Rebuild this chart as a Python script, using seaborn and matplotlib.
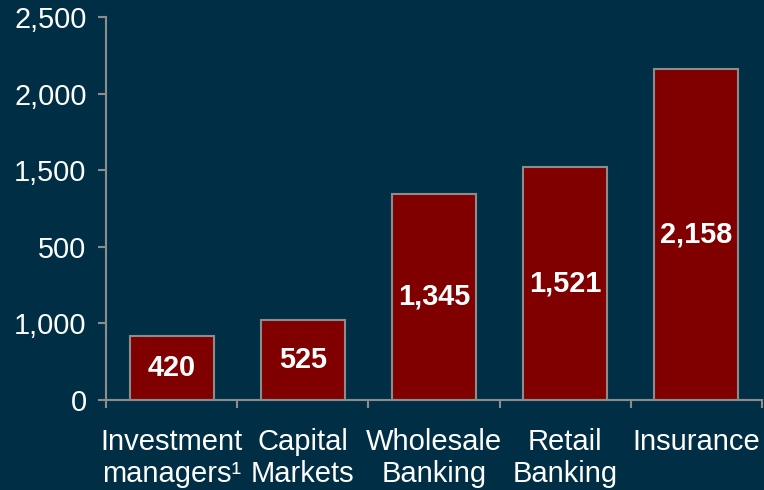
import matplotlib
matplotlib.use("Agg")
import matplotlib.pyplot as plt
import seaborn as sns
import pandas as pd

categories = ["Investment\nmanagers\u00b9", "Capital\nMarkets", "Wholesale\nBanking",
              "Retail\nBanking", "Insurance"]
values = [420, 525, 1345, 1521, 2158]
value_labels = ["420", "525", "1,345", "1,521", "2,158"]
y_ticks = [0, 500, 1000, 1500, 2000, 2500]
y_tick_labels = ["0", "1,000", "500", "1,500", "2,000", "2,500"]

bg = "#002F45"
bar_color = "#800000"
grey = "#8C8C8C"

sns.set_theme(style="white")
plt.rcParams["font.family"] = ["Liberation Sans", "DejaVu Sans"]

df = pd.DataFrame({"category": categories, "value": values})

fig = plt.figure(figsize=(7.64, 4.90), dpi=100, facecolor=bg)
ax = fig.add_axes([0.1387, 0.1837, 0.8587, 0.7816])
ax.set_facecolor(bg)

sns.barplot(data=df, x="category", y="value", color=bar_color, saturation=1,
            width=0.64, edgecolor=grey, linewidth=1.5, ax=ax)

for i, (v, lab) in enumerate(zip(values, value_labels)):
    ax.text(i, v / 2, lab, ha="center", va="center", color="white",
            fontsize=20.8, fontweight="bold")

ax.set_xlim(-0.5, len(categories) - 0.5)
ax.set_ylim(0, 2500)
ax.set_yticks(y_ticks)
ax.set_yticklabels(y_tick_labels)
ax.set_xticks(range(len(categories)))
ax.set_xticklabels(categories)
ax.set_xticks([i - 0.5 for i in range(len(categories) + 1)], minor=True)

ax.tick_params(axis="x", which="major", bottom=True, length=0, pad=20,
               labelsize=21, colors="white")
ax.tick_params(axis="x", which="minor", bottom=True, length=6, width=1.5,
               color=grey, direction="out")
ax.tick_params(axis="y", which="major", left=True, length=6, width=1.5, color=grey,
               direction="out", labelsize=20.8, labelcolor="white", pad=8)

for side in ("top", "right"):
    ax.spines[side].set_visible(False)
for side in ("left", "bottom"):
    ax.spines[side].set_color(grey)
    ax.spines[side].set_linewidth(1.5)

ax.set_xlabel("")
ax.set_ylabel("")

fig.savefig("out.png", dpi=100, facecolor=bg)
